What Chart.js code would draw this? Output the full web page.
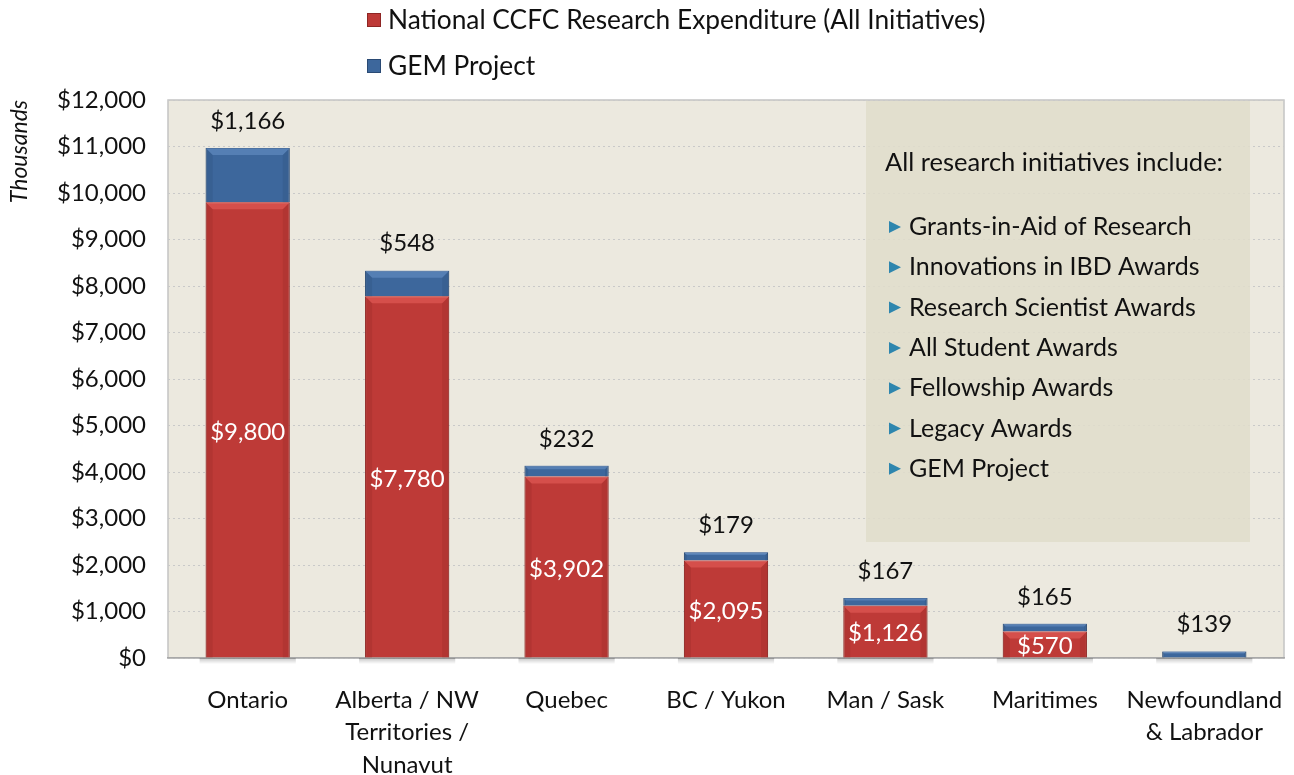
<!DOCTYPE html>
<html>
<head>
<meta charset="utf-8">
<script src="https://cdn.jsdelivr.net/npm/chart.js@4/dist/chart.umd.min.js"></script>
<style>
  html, body { margin: 0; padding: 0; background: #ffffff; }
  #wrap { position: relative; width: 1294px; height: 775px; }
  canvas { display: block; }
</style>
</head>
<body>
<div id="wrap"><canvas id="c" width="1294" height="775"></canvas></div>
<script>
// ---- data ----
const categories = [
  ["Ontario"],
  ["Alberta / NW", "Territories /", "Nunavut"],
  ["Quebec"],
  ["BC / Yukon"],
  ["Man / Sask"],
  ["Maritimes"],
  ["Newfoundland", "& Labrador"]
];
const nationalValues = [9800, 7780, 3902, 2095, 1126, 570, 0];
const gemValues = [1166, 548, 232, 179, 167, 165, 139];
const seriesNames = ["National CCFC Research Expenditure (All Initiatives)", "GEM Project"];
const yTickValues = [0, 1000, 2000, 3000, 4000, 5000, 6000, 7000, 8000, 9000, 10000, 11000, 12000];
const boxTitle = "All research initiatives include:";
const boxItems = [
  "Grants-in-Aid of Research",
  "Innovations in IBD Awards",
  "Research Scientist Awards",
  "All Student Awards",
  "Fellowship Awards",
  "Legacy Awards",
  "GEM Project"
];

const FONT = "Lato, 'Open Sans', sans-serif";
const RED = "#BE3A37";
const RED_DARK = "#8E2624";
const RED_LIGHT = "#E8605C";
const BLUE = "#3D679C";
const BLUE_DARK = "#2A4A74";
const BLUE_LIGHT = "#6A93C8";

function fmt(v) { return "$" + v.toLocaleString("en-US"); }

// plot background + border + info box
const backgroundPlugin = {
  id: "plotBg",
  beforeDraw(chart) {
    const { ctx, chartArea: a } = chart;
    ctx.save();
    ctx.fillStyle = "#ECE9DF";
    ctx.fillRect(a.left, a.top, a.right - a.left, a.bottom - a.top);
    ctx.strokeStyle = "#C4C4C4";
    ctx.lineWidth = 1.5;
    ctx.strokeRect(a.left, a.top, a.right - a.left, a.bottom - a.top);
    ctx.restore();
  },
  beforeDatasetsDraw(chart) {
    const { ctx, chartArea: a } = chart;
    const x0 = 866, y0 = a.top + 1, w = 384, h = 542 - a.top - 1;
    ctx.save();
    ctx.fillStyle = "rgba(224,221,203,0.85)";
    ctx.fillRect(x0, y0, w, h);
    ctx.fillStyle = "#111";
    ctx.textBaseline = "middle";
    ctx.textAlign = "left";
    ctx.font = "25.5px " + FONT;
    ctx.fillText(boxTitle, 885, 163);
    ctx.font = "25px " + FONT;
    boxItems.forEach((t, i) => {
      const y = 227 + i * 40.3;
      ctx.fillStyle = "#2E86AE";
      ctx.beginPath();
      ctx.moveTo(889, y - 6);
      ctx.lineTo(901, y);
      ctx.lineTo(889, y + 6);
      ctx.closePath();
      ctx.fill();
      ctx.fillStyle = "#111";
      ctx.fillText(t, 909, y);
    });
    // soft shadow under bars
    const m0 = chart.getDatasetMeta(0);
    m0.data.forEach(bar => {
      const g = ctx.createLinearGradient(0, a.bottom, 0, a.bottom + 6);
      g.addColorStop(0, "rgba(0,0,0,0.22)");
      g.addColorStop(1, "rgba(0,0,0,0)");
      ctx.fillStyle = g;
      ctx.fillRect(bar.x - bar.width / 2 - 6, a.bottom, bar.width + 12, 6);
    });
    ctx.restore();
  }
};

// bevel highlight, value labels, legend
function bevel(ctx, bar, light, dark) {
  const l = bar.x - bar.width / 2, r = bar.x + bar.width / 2;
  const t = Math.min(bar.y, bar.base), b = Math.max(bar.y, bar.base);
  const h = b - t;
  if (h < 2) return;
  const d = Math.min(7, h / 3);
  ctx.save();
  ctx.globalAlpha = 0.55;
  ctx.fillStyle = light;
  ctx.beginPath();
  ctx.moveTo(l, t); ctx.lineTo(r, t); ctx.lineTo(r - d, t + d); ctx.lineTo(l + d, t + d);
  ctx.closePath(); ctx.fill();
  ctx.globalAlpha = 0.25;
  ctx.fillStyle = dark;
  ctx.beginPath();
  ctx.moveTo(l, t); ctx.lineTo(l + d, t + d); ctx.lineTo(l + d, b); ctx.lineTo(l, b);
  ctx.closePath(); ctx.fill();
  ctx.beginPath();
  ctx.moveTo(r, t); ctx.lineTo(r - d, t + d); ctx.lineTo(r - d, b); ctx.lineTo(r, b);
  ctx.closePath(); ctx.fill();
  ctx.restore();
}

const labelsPlugin = {
  id: "valueLabels",
  afterDatasetsDraw(chart) {
    const { ctx } = chart;
    const m0 = chart.getDatasetMeta(0);
    const m1 = chart.getDatasetMeta(1);
    m0.data.forEach(bar => bevel(ctx, bar, RED_LIGHT, RED_DARK));
    m1.data.forEach(bar => bevel(ctx, bar, BLUE_LIGHT, BLUE_DARK));
    ctx.save();
    ctx.font = "24px " + FONT;
    ctx.textAlign = "center";
    ctx.textBaseline = "middle";
    m0.data.forEach((bar, i) => {
      if (nationalValues[i] > 0) {
        ctx.fillStyle = "#ffffff";
        ctx.fillText(fmt(nationalValues[i]), bar.x, (bar.y + bar.base) / 2 + 2);
      }
    });
    m1.data.forEach((bar, i) => {
      ctx.fillStyle = "#111";
      ctx.fillText(fmt(gemValues[i]), bar.x, bar.y - 27);
    });
    // legend
    const items = [[RED, RED_DARK, seriesNames[0], 20], [BLUE, BLUE_DARK, seriesNames[1], 66]];
    ctx.textAlign = "left";
    ctx.font = "26.3px " + FONT;
    items.forEach(([c, d, t, y]) => {
      ctx.fillStyle = c;
      ctx.fillRect(367, y - 7, 14, 14);
      ctx.strokeStyle = d;
      ctx.lineWidth = 1;
      ctx.strokeRect(367.5, y - 6.5, 13, 13);
      ctx.fillStyle = "#111";
      ctx.fillText(t, 388, y + 1);
    });
    ctx.restore();
  }
};

new Chart(document.getElementById("c"), {
  type: "bar",
  data: {
    labels: categories,
    datasets: [
      {
        label: seriesNames[0],
        data: nationalValues,
        backgroundColor: RED,
        borderColor: RED_DARK,
        borderWidth: 1,
        categoryPercentage: 0.8,
        barPercentage: 0.66
      },
      {
        label: seriesNames[1],
        data: gemValues,
        backgroundColor: BLUE,
        borderColor: BLUE_DARK,
        borderWidth: 1,
        categoryPercentage: 0.8,
        barPercentage: 0.66
      }
    ]
  },
  options: {
    responsive: false,
    animation: false,
    layout: { padding: { top: 100, right: 10, left: 0, bottom: 0 } },
    plugins: {
      legend: { display: false },
      tooltip: { enabled: false }
    },
    scales: {
      x: {
        stacked: true,
        grid: { display: false, drawTicks: false },
        border: { display: true, color: "#A8A8A8", width: 1.5 },
        ticks: {
          color: "#111",
          font: { family: FONT, size: 24, lineHeight: 1.35 },
          padding: 26,
          maxRotation: 0,
          autoSkip: false
        },
        afterFit(s) { s.height = 117; s.paddingLeft = 0; s.paddingRight = 0; }
      },
      y: {
        stacked: true,
        min: 0,
        max: 12000,
        afterBuildTicks(s) { s.ticks = yTickValues.map(v => ({ value: v })); },
        grid: {
          color: "#C9C9C9",
          drawTicks: false,
          lineWidth: 1
        },
        border: { display: false, dash: [2, 3] },
        ticks: {
          color: "#111",
          font: { family: FONT, size: 24 },
          padding: 22,
          callback: v => fmt(v)
        },
        title: {
          display: true,
          text: "Thousands",
          align: "end",
          color: "#111",
          font: { family: FONT, size: 23, style: "italic" },
          padding: { top: 6, bottom: 0 }
        },
        afterFit(s) { s.width = 168; s.paddingTop = 0; s.paddingBottom = 0; }
      }
    }
  },
  plugins: [backgroundPlugin, labelsPlugin]
});
</script>
</body>
</html>
